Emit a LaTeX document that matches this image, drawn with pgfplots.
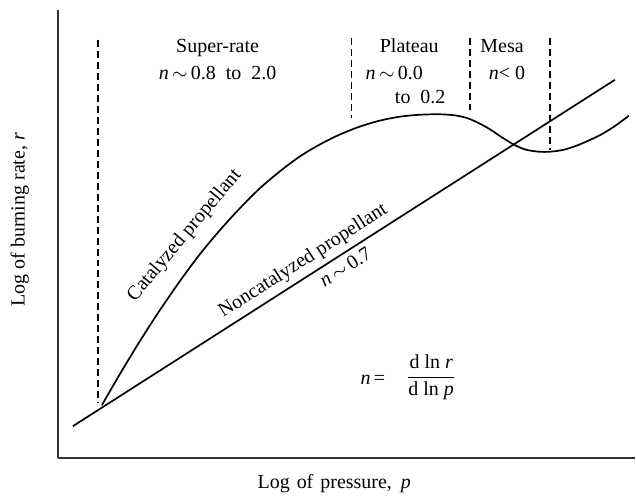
\documentclass[border=0pt]{standalone}
\usepackage{pgfplots}
\pgfplotsset{compat=1.18}
\usepackage{fontspec}
\setmainfont{Liberation Serif}

\begin{document}
\begin{tikzpicture}
\fontsize{10}{12}\selectfont
\begin{axis}[
  x=0.5pt, y=0.5pt,
  xmin=58, xmax=636,
  ymin=39, ymax=488,
  axis lines=left,
  axis line style={-, line width=1.2pt, black!80},
  ticks=none,
  clip=false,
  xlabel={Log\hspace{1pt} of\hspace{1pt} pressure,\hspace{2pt} \textit{p}},
  ylabel={Log of burning rate,\ \textit{r}},
  xlabel style={at={(axis description cs:0.479,-0.056)}, anchor=center},
  ylabel style={at={(axis description cs:-0.066,0.532)}, anchor=center},
  dashed line/.style={black, line width=0.75pt, dash pattern=on 3.5pt off 2pt},
  curve/.style={black, line width=0.85pt, mark=none},
]
% bounding box of the whole figure (pixel frame of the reference)
\path (axis cs:0,0) rectangle (axis cs:636,498);

% regime boundaries
\addplot[dashed line] coordinates {(98,458) (98,94)};
\addplot[dashed line] coordinates {(352,460) (352,380)};
\addplot[dashed line] coordinates {(471,460) (471,388)};
\addplot[dashed line] coordinates {(551,460) (551,348)};

% noncatalyzed propellant, straight line in log-log
\addplot[curve] coordinates {(73,71) (616,418)}
  node[pos=0.44, sloped, above, inner sep=2.5pt] {Noncatalyzed propellant}
  node[pos=0.49, sloped, below, inner sep=2.5pt] {\textit{n}\,$\sim$\,0.7};

% catalyzed propellant
\addplot[curve, smooth] coordinates {
  (102,92) (120,123) (140,156) (160,187) (180,216) (200,243)
  (220,267) (240,289) (260,309) (280,326) (300,341) (320,353)
  (340,363) (360,371) (380,377) (400,381) (420,383) (440,383.5)
  (455,382.5) (467,380) (478,375.5) (490,369) (502,361) (515,353)
  (527,348) (540,346) (551,346) (565,348) (580,353) (600,362)
  (615,371) (630,382)
};

\node[rotate=50] at (axis cs:185,262) {Catalyzed propellant};

\node[anchor=base] at (axis cs:218,445) {Super-rate};
\node[anchor=base] at (axis cs:218,418) {\textit{n}\,$\sim$\,0.8\enspace to\enspace 2.0};
\node[anchor=base] at (axis cs:410,445) {Plateau};
\node[anchor=base] at (axis cs:395,418) {\textit{n}\,$\sim$\,0.0};
\node[anchor=base] at (axis cs:421,394) {to\enspace 0.2};
\node[anchor=base] at (axis cs:503,445) {Mesa};
\node[anchor=base] at (axis cs:508,418) {\textit{n}< 0};

\node[anchor=base east] at (axis cs:393,113) {\textit{n}\,=};
\node at (axis cs:432,120) {$\displaystyle\frac{\mbox{d ln \textit{r}}}{\mbox{d ln \textit{p}}}$};
\end{axis}
\end{tikzpicture}
\end{document}
